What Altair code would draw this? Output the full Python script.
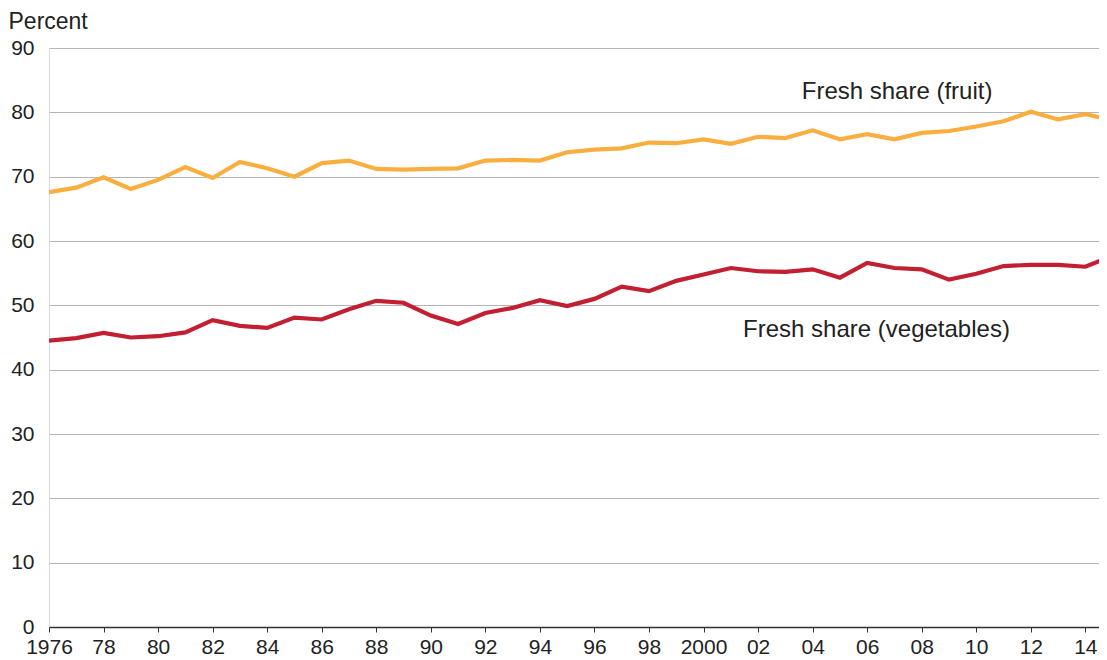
import altair as alt
import pandas as pd

years = list(range(1976, 2016))
fruit = [67.6, 68.3, 69.9, 68.1, 69.5, 71.5, 69.8, 72.3, 71.3, 70.0,
         72.1, 72.5, 71.2, 71.1, 71.2, 71.3, 72.5, 72.6, 72.5, 73.8,
         74.2, 74.4, 75.3, 75.2, 75.8, 75.1, 76.2, 76.0, 77.2, 75.8,
         76.6, 75.8, 76.8, 77.1, 77.8, 78.6, 80.1, 78.9, 79.7, 78.8]
vegetables = [44.5, 44.9, 45.7, 45.0, 45.2, 45.8, 47.7, 46.8, 46.5, 48.1,
              47.8, 49.4, 50.7, 50.4, 48.4, 47.1, 48.8, 49.6, 50.8, 49.9,
              51.0, 52.9, 52.2, 53.8, 54.8, 55.8, 55.3, 55.2, 55.6, 54.3,
              56.6, 55.8, 55.6, 54.0, 54.9, 56.1, 56.3, 56.3, 56.0, 57.7]
series_names = ["Fresh share (fruit)", "Fresh share (vegetables)"]
series_colors = ["#F9AF3F", "#C21F32"]
y_ticks = [0, 10, 20, 30, 40, 50, 60, 70, 80, 90]

ann_text = ["Fresh share (fruit)", "Fresh share (vegetables)"]
ann_x = [2003.6, 2001.45]
ann_y = [82.0, 45.1]

df = pd.DataFrame({
    "year": years * 2,
    "value": fruit + vegetables,
    "series": [series_names[0]] * len(years) + [series_names[1]] * len(years),
})
ann = pd.DataFrame({"text": ann_text, "x": ann_x, "y": ann_y})

FONT = "Liberation Sans"
x_scale = alt.Scale(domain=[1976, 2014.5], nice=False, zero=False)
y_scale = alt.Scale(domain=[0, 90], nice=False)

label_expr = ("datum.value % 2 == 0 ? ((datum.value == 1976 || datum.value == 2000) ? "
              "('' + datum.value) : slice('' + datum.value, 2)) : ''")

lines = alt.Chart(df).mark_line(strokeWidth=4.2, clip=True).encode(
    x=alt.X("year:Q", scale=x_scale,
            axis=alt.Axis(values=years, labelExpr=label_expr, title=None, grid=False,
                          tickSize=5, tickColor="#333333", domainColor="#333333",
                          domainWidth=1.5, labelFontSize=21, labelColor="#222222",
                          labelOverlap=False, labelBound=False, labelFlush=False,
                          labelPadding=4, labelFont=FONT)),
    y=alt.Y("value:Q", scale=y_scale,
            axis=alt.Axis(values=y_ticks, grid=True, gridColor="#b4b4b4", gridWidth=1,
                          ticks=False, domain=False, labelFontSize=21,
                          labelColor="#222222", labelPadding=15, labelFont=FONT,
                          title="Percent", titleAngle=0, titleAlign="left",
                          titleBaseline="alphabetic", titleX=-41, titleY=-20,
                          titleFontSize=23, titleFontWeight="normal",
                          titleColor="#222222", titleFont=FONT)),
    color=alt.Color("series:N", scale=alt.Scale(domain=series_names, range=series_colors),
                    legend=None),
    detail="series:N",
)

labels = alt.Chart(ann).mark_text(align="left", baseline="alphabetic", fontSize=24,
                                  font=FONT, color="#222222").encode(
    x=alt.X("x:Q", scale=x_scale),
    y=alt.Y("y:Q", scale=y_scale),
    text="text:N",
)

chart = alt.layer(lines, labels).properties(
    width=1050, height=579,
    autosize=alt.AutoSizeParams(type="none"),
    padding={"left": 41, "top": 40, "right": 0, "bottom": 31},
).configure_view(stroke=None).configure(background="white")

chart.save("out.html", embed_options={"renderer": "svg", "actions": False})
